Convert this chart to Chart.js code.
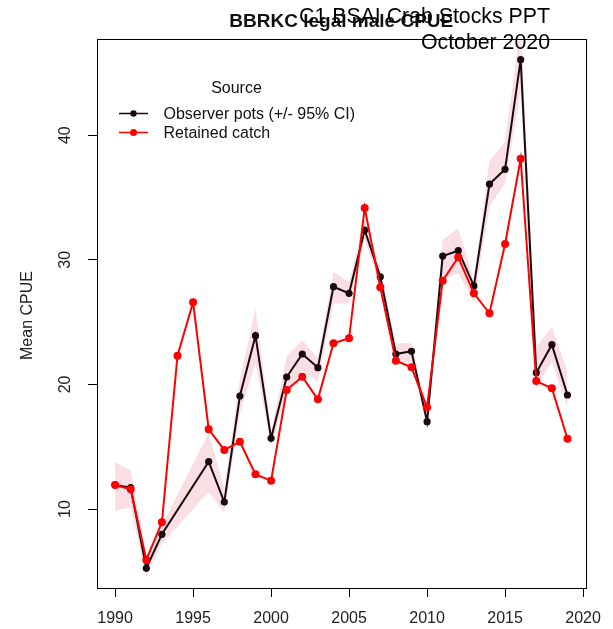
<!DOCTYPE html>
<html>
<head>
<meta charset="utf-8">
<script src="https://cdn.jsdelivr.net/npm/chart.js@4.4.0/dist/chart.umd.min.js"></script>
<style>
  html, body { margin: 0; padding: 0; background: #fff; }
  #wrap { position: relative; width: 613px; height: 629px; }
</style>
</head>
<body>
<div id="wrap"><canvas id="c" width="613" height="629"></canvas></div>
<script>
// ---- Data ----
const observerYears = [1990,1991,1992,1993,1996,1997,1998,1999,2000,2001,2002,2003,2004,2005,2006,2007,2008,2009,2010,2011,2012,2013,2014,2015,2016,2017,2018,2019];
const observerCPUE  = [11.93,11.71,5.24,7.97,13.80,10.56,19.07,23.91,15.67,20.59,22.44,21.34,27.84,27.31,32.39,28.64,22.44,22.66,17.01,30.30,30.73,27.90,36.08,37.26,46.06,20.94,23.19,19.15];
const ciLower       = [9.86,10.14,4.57,7.20,11.39,9.70,17.70,21.69,15.10,19.28,21.16,20.22,26.51,26.50,31.60,27.90,21.96,21.69,16.48,28.50,28.90,26.64,34.26,36.16,43.50,19.77,21.82,18.08];
const ciUpper       = [13.80,13.07,6.30,8.70,16.07,11.66,20.40,26.11,16.20,22.22,23.56,22.09,29.00,28.20,33.20,29.40,23.30,23.30,17.95,31.59,32.53,28.38,37.90,39.51,48.80,23.00,24.63,21.02];

const retainedYears = [1990,1991,1992,1993,1994,1995,1996,1997,1998,1999,2000,2001,2002,2003,2004,2005,2006,2007,2008,2009,2010,2011,2012,2013,2014,2015,2016,2017,2018,2019];
const retainedCPUE  = [11.93,11.58,5.91,8.93,22.30,26.59,16.40,14.74,15.40,12.78,12.27,19.55,20.62,18.80,23.30,23.70,34.16,27.79,21.90,21.37,18.16,28.32,30.20,27.31,25.71,31.27,38.11,20.27,19.69,15.64];

const xTicks = [1990,1995,2000,2005,2010,2015,2020];
const yTicks = [10,20,30,40];

const seriesLabels = ['Observer pots (+/- 95% CI)', 'Retained catch'];
const legendTitle = 'Source';
const mainTitle = 'BBRKC legal male CPUE';
const overlayLines = ['C1 BSAI Crab Stocks PPT', 'October 2020'];
const yAxisTitle = 'Mean CPUE';

const FONT = "'Liberation Sans', Arial, Helvetica, sans-serif";
Chart.defaults.font.family = FONT;

const pts = (xs, ys) => xs.map((x, i) => ({x: x, y: ys[i]}));

const bandColor = 'rgba(220,60,90,0.17)';
const blackCol = '#1a0a0d';
const redCol = '#ff0000';

const decor = {
  id: 'decor',
  afterDraw(chart) {
    const ctx = chart.ctx;
    const a = chart.chartArea;
    const ys = chart.scales.y;
    ctx.save();
    // box
    ctx.strokeStyle = '#000';
    ctx.lineWidth = 1;
    ctx.strokeRect(Math.round(a.left) + 0.5, Math.round(a.top) + 0.5, Math.round(a.right - a.left), Math.round(a.bottom - a.top));

    // y tick labels (rotated, R style)
    ctx.fillStyle = '#222';
    ctx.font = '16px ' + FONT;
    ctx.textAlign = 'center';
    ctx.textBaseline = 'middle';
    yTicks.forEach(v => {
      const py = ys.getPixelForValue(v);
      ctx.save();
      ctx.translate(66, py);
      ctx.rotate(-Math.PI / 2);
      ctx.fillText(String(v), 0, 0);
      ctx.restore();
    });
    // y axis title
    ctx.save();
    ctx.translate(28, (a.top + a.bottom) / 2 + 2);
    ctx.rotate(-Math.PI / 2);
    ctx.fillText(yAxisTitle, 0, 0);
    ctx.restore();

    // main title
    ctx.fillStyle = '#111';
    ctx.font = 'bold 19px ' + FONT;
    ctx.textAlign = 'center';
    ctx.fillText(mainTitle, (a.left + a.right) / 2, 22);

    // overlay text
    ctx.fillStyle = '#000';
    ctx.font = '21.3px ' + FONT;
    ctx.textAlign = 'right';
    ctx.fillText(overlayLines[0], 550, 17);
    ctx.fillText(overlayLines[1], 550, 43);

    // legend
    ctx.fillStyle = '#111';
    ctx.font = '16px ' + FONT;
    ctx.textAlign = 'center';
    ctx.fillText(legendTitle, 236.5, 88.5);
    const rows = [{y: 113.5, c: blackCol, r: 3.2}, {y: 132.5, c: redCol, r: 3.5}];
    rows.forEach((row, i) => {
      ctx.strokeStyle = row.c;
      ctx.lineWidth = 1.5;
      ctx.beginPath();
      ctx.moveTo(119, row.y);
      ctx.lineTo(148, row.y);
      ctx.stroke();
      ctx.fillStyle = row.c;
      ctx.beginPath();
      ctx.arc(133.5, row.y, row.r, 0, Math.PI * 2);
      ctx.fill();
      ctx.fillStyle = '#111';
      ctx.textAlign = 'left';
      ctx.fillText(seriesLabels[i], 163.5, row.y + 1);
    });
    ctx.restore();
  }
};

new Chart(document.getElementById('c'), {
  type: 'line',
  data: {
    datasets: [
      {
        label: seriesLabels[1],
        data: pts(retainedYears, retainedCPUE),
        borderColor: redCol, backgroundColor: redCol,
        borderWidth: 2, pointRadius: 4, pointBorderWidth: 0,
        tension: 0, fill: false, order: 0
      },
      {
        label: seriesLabels[0],
        data: pts(observerYears, observerCPUE),
        borderColor: blackCol, backgroundColor: blackCol,
        borderWidth: 2, pointRadius: 3.6, pointBorderWidth: 0,
        tension: 0, fill: false, order: 1
      },
      {
        label: 'ci upper',
        data: pts(observerYears, ciUpper),
        borderWidth: 0, pointRadius: 0, borderColor: 'rgba(0,0,0,0)',
        backgroundColor: bandColor, fill: false, tension: 0, order: 2
      },
      {
        label: 'ci lower',
        data: pts(observerYears, ciLower),
        borderWidth: 0, pointRadius: 0, borderColor: 'rgba(0,0,0,0)',
        backgroundColor: bandColor, fill: '-1', tension: 0, order: 3
      }
    ]
  },
  options: {
    responsive: false,
    animation: false,
    devicePixelRatio: 1,
    layout: { padding: { top: 39, right: 25, left: 0, bottom: 0 } },
    plugins: {
      legend: { display: false },
      title: { display: false },
      tooltip: { enabled: false }
    },
    scales: {
      x: {
        type: 'linear',
        min: 1988.84, max: 2020.16,
        afterBuildTicks: s => { s.ticks = xTicks.map(v => ({value: v})); },
        afterFit: s => { s.height = 41; },
        grid: { drawOnChartArea: false, drawTicks: true, tickLength: 9, color: '#000', lineWidth: 1 },
        border: { display: false },
        ticks: {
          color: '#222', font: { size: 16 }, padding: 12, maxRotation: 0, autoSkip: false,
          callback: v => String(v)
        }
      },
      y: {
        type: 'linear',
        min: 3.66, max: 47.72,
        afterBuildTicks: s => { s.ticks = yTicks.map(v => ({value: v})); },
        afterFit: s => { s.width = 97; },
        grid: { drawOnChartArea: false, drawTicks: true, tickLength: 9, color: '#000', lineWidth: 1 },
        border: { display: false },
        ticks: { display: false }
      }
    }
  },
  plugins: [decor]
});
</script>
</body>
</html>
